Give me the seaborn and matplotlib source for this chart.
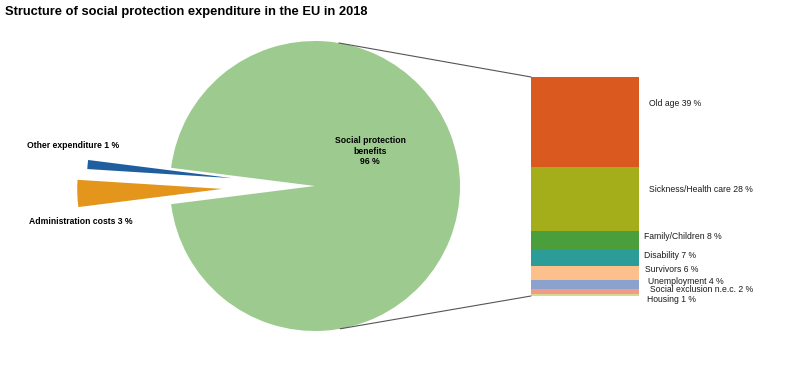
import numpy as np
import matplotlib
matplotlib.use("Agg")
import matplotlib.pyplot as plt
import seaborn as sns
from matplotlib.patches import ConnectionPatch

sns.set_style("white")
plt.rcParams['font.family'] = ['Liberation Sans', 'DejaVu Sans']

# pie data: total expenditure split
pie_labels = ["Social protection benefits", "Other expenditure", "Administration costs"]
pie_values = [96, 1, 3]
pie_colors = ["#9cca8f", "#1f5fa0", "#e3961b"]

# benefits breakdown (bottom -> top of the stacked bar)
ben_labels = ["Housing", "Social exclusion n.e.c.", "Unemployment", "Survivors",
              "Disability", "Family/Children", "Sickness/Health care", "Old age"]
ben_values = [1, 2, 4, 6, 7, 8, 28, 39]
ben_colors = ["#d3dc8e", "#f29c86", "#8aa2cc", "#fbc08c",
              "#2b9c98", "#4a9e3c", "#a4ad1a", "#d9591e"]

W, H = 800, 366
fig = plt.figure(figsize=(W / 100, H / 100), dpi=100)

# pie axes spans the whole figure, unit radius = 145 px, centre at (315, 186) px
cx, cy, r = 315, 186, 145
ax = fig.add_axes([0, 0, 1, 1])
ax.pie(pie_values, colors=pie_colors, startangle=187.2, radius=1,
       explode=[0, 0.575, 0.64], wedgeprops=dict(linewidth=0))
ax.set_xlim(-cx / r, (W - cx) / r)
ax.set_ylim(-(H - cy) / r, cy / r)
ax.set_aspect("equal")
ax.axis("off")

def px(x, y):
    return x / W, 1 - y / H

ax.text((370 - cx) / r, (cy - 151) / r,
        "Social protection\nbenefits\n%d %%" % pie_values[0],
        ha="center", va="center", fontsize=6.2, fontweight="bold",
        linespacing=1.2, color="black")
fig.text(*px(27, 145), "%s %d %%" % (pie_labels[1], pie_values[1]),
         ha="left", va="center", fontsize=6.2, fontweight="bold", color="black")
fig.text(*px(29, 222), "%s %d %%" % (pie_labels[2], pie_values[2]),
         ha="left", va="center", fontsize=6.2, fontweight="bold", color="black")

# stacked bar of benefits
bx0, bx1, by0, by1 = 531, 639, 77, 296
axb = fig.add_axes([bx0 / W, 1 - by1 / H, (bx1 - bx0) / W, (by1 - by0) / H])
bottoms = np.concatenate([[0], np.cumsum(ben_values)[:-1]])
axb.bar(0, ben_values, bottom=bottoms, width=1, color=ben_colors, linewidth=0)
axb.set_xlim(-0.5, 0.5)
axb.set_ylim(0, sum(ben_values))
axb.axis("off")

# label positions (px) for each benefit, same order as ben_labels
label_pos = [(647, 300), (650, 290), (648, 281), (645, 270),
             (644, 255), (644, 236), (649, 189), (649, 103)]
for lab, val, (x, y) in zip(ben_labels, ben_values, label_pos):
    fig.text(*px(x, y), "%s %d %%" % (lab, val), ha="left", va="center",
             fontsize=6.2, color="#1a1a1a")

# connector lines from pie to bar
a_top, a_bot = np.deg2rad(80.5), np.deg2rad(-80.0)
for ang, yb in [(a_top, sum(ben_values)), (a_bot, 0)]:
    con = ConnectionPatch(xyA=(np.cos(ang), np.sin(ang)), coordsA=ax.transData,
                          xyB=(-0.5, yb), coordsB=axb.transData,
                          color="#555555", lw=0.8)
    fig.add_artist(con)

fig.text(*px(5, 12), "Structure of social protection expenditure in the EU in 2018",
         ha="left", va="center", fontsize=9.3, fontweight="bold", color="black")

fig.savefig("out.png", dpi=100)
